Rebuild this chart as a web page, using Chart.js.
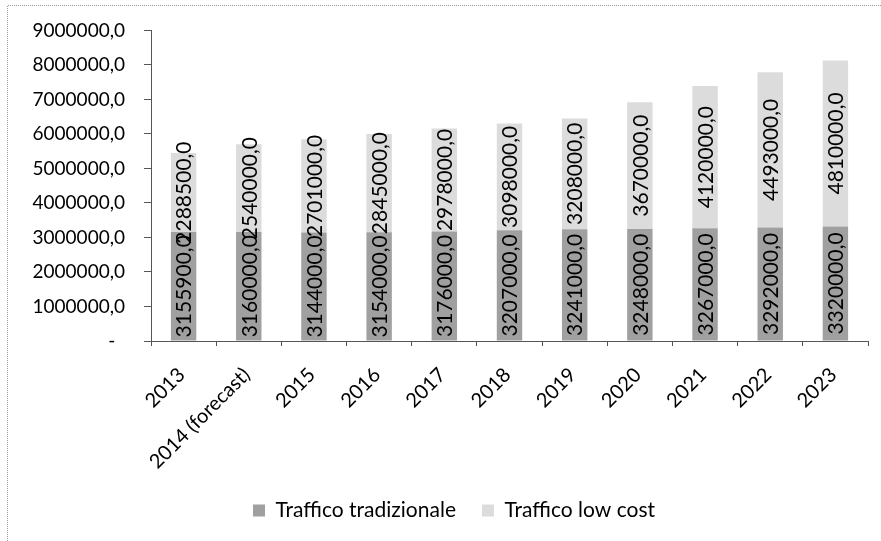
<!DOCTYPE html>
<html><head><meta charset="utf-8">
<script src="https://cdn.jsdelivr.net/npm/chart.js@4.4.1/dist/chart.umd.min.js"></script>
<style>html,body{margin:0;padding:0;background:#fff;}#wrap{width:881px;height:541px;position:relative;}</style>
</head><body><div id="wrap"><canvas id="c" width="881" height="541"></canvas></div>
<script>
const categories = ['2013','2014 (forecast)','2015','2016','2017','2018','2019','2020','2021','2022','2023'];
const trafficoTradizionale = [3155900,3160000,3144000,3154000,3176000,3207000,3241000,3248000,3267000,3292000,3320000];
const trafficoLowCost = [2288500,2540000,2701000,2845000,2978000,3098000,3208000,3670000,4120000,4493000,4810000];
const seriesNames = ['Traffico tradizionale','Traffico low cost'];
const yMin = 0, yMax = 9000000, yStep = 1000000;

const FONT = 'Lato';
const fmt = v => v === 0 ? '-\u00a0\u00a0' : String(v) + ',0';

const frame = {
  id: 'frame',
  afterLayout(chart) {
    const lg = chart.legend;
    if (lg) { lg.left += 20; lg.right += 20; }
  },
  beforeDraw(chart) {
    const ctx = chart.ctx;
    ctx.save();
    ctx.fillStyle = '#fff';
    ctx.fillRect(0, 0, chart.width, chart.height);
    ctx.strokeStyle = '#9a9a9a';
    ctx.lineWidth = 1;
    ctx.setLineDash([1, 1]);
    ctx.beginPath();
    ctx.moveTo(7.5, chart.height);
    ctx.lineTo(7.5, 5.5);
    ctx.lineTo(chart.width, 5.5);
    ctx.stroke();
    ctx.restore();
  }
};

const valueLabels = {
  id: 'valueLabels',
  afterDatasetsDraw(chart) {
    const ctx = chart.ctx;
    chart.data.datasets.forEach((ds, i) => {
      const meta = chart.getDatasetMeta(i);
      meta.data.forEach((bar, j) => {
        const p = bar.getProps(['x', 'y', 'base'], true);
        ctx.save();
        ctx.translate(p.x, (p.y + p.base) / 2);
        ctx.rotate(-Math.PI / 2);
        ctx.font = '21px ' + FONT;
        ctx.fillStyle = '#000';
        ctx.textAlign = 'center';
        ctx.textBaseline = 'middle';
        ctx.fillText(fmt(ds.data[j]), 0, 1);
        ctx.restore();
      });
    });
  }
};

new Chart(document.getElementById('c'), {
  type: 'bar',
  data: {
    labels: categories,
    datasets: [
      { label: seriesNames[0], data: trafficoTradizionale, backgroundColor: '#a0a0a0', borderWidth: 0, barPercentage: 0.39, categoryPercentage: 1.0 },
      { label: seriesNames[1], data: trafficoLowCost, backgroundColor: '#dcdcdc', borderWidth: 0, barPercentage: 0.39, categoryPercentage: 1.0 }
    ]
  },
  options: {
    responsive: false,
    animation: false,
    devicePixelRatio: 1,
    layout: { padding: { left: 0, right: 13, top: 30, bottom: 10 } },
    plugins: {
      tooltip: { enabled: false },
      legend: {
        position: 'bottom',
        labels: {
          font: { family: FONT, size: 21 },
          color: '#000',
          boxWidth: 12,
          boxHeight: 12,
          padding: 26
        }
      }
    },
    scales: {
      x: {
        stacked: true,
        afterFit: s => { s.height = 133; },
        grid: { display: true, drawOnChartArea: false, drawTicks: true, tickLength: 5, color: '#555', offset: true },
        border: { display: true, color: '#555', width: 1 },
        ticks: { color: '#000', font: { family: FONT, size: 20 }, maxRotation: 45, minRotation: 45, padding: 17, labelOffset: -2, autoSkip: false }
      },
      y: {
        stacked: true,
        min: yMin,
        max: yMax,
        afterFit: s => { s.width = 151; },
        grid: { display: true, drawOnChartArea: false, drawTicks: true, tickLength: 7, color: '#555' },
        border: { display: true, color: '#555', width: 1 },
        ticks: { stepSize: yStep, color: '#000', font: { family: FONT, size: 19 }, padding: 19, callback: v => fmt(v) }
      }
    }
  },
  plugins: [frame, valueLabels]
});
</script>
</body></html>
